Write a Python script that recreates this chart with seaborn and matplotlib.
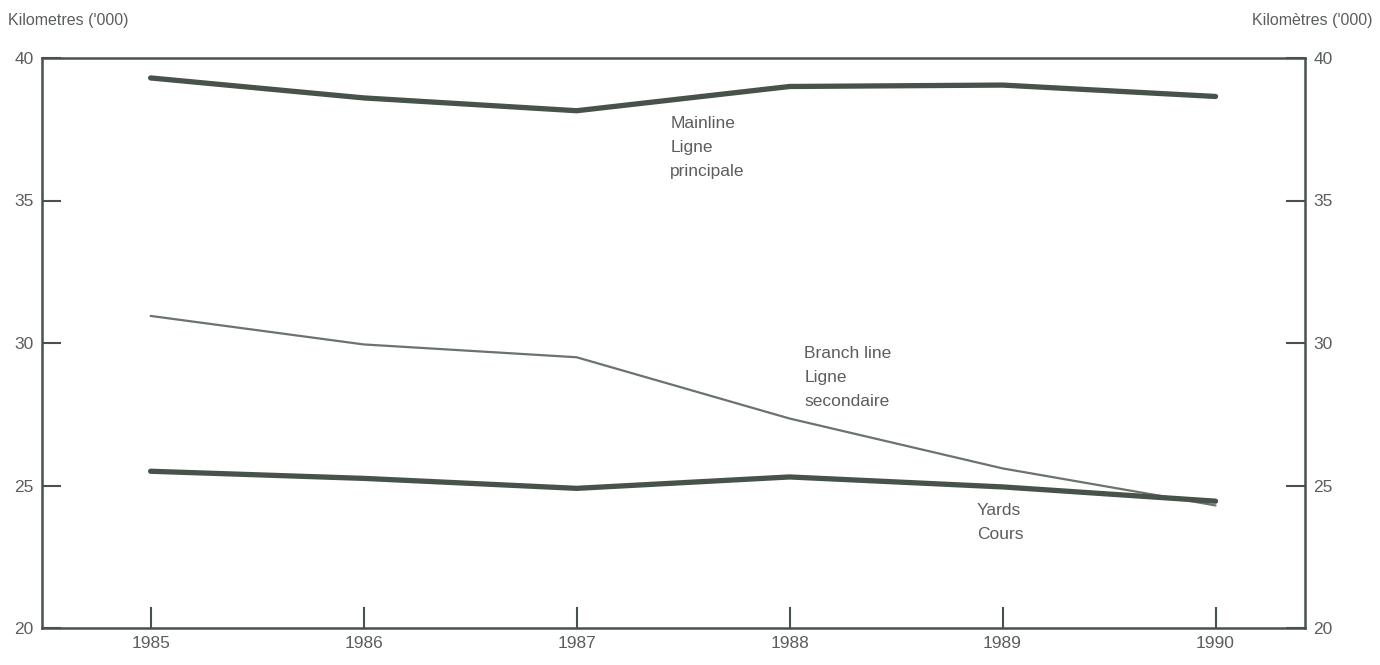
import pandas as pd
import matplotlib.pyplot as plt
import seaborn as sns

# Data (kilometres, thousands)
years = [1985, 1986, 1987, 1988, 1989, 1990]
mainline = [39.3, 38.6, 38.15, 39.0, 39.05, 38.65]
branch_line = [30.95, 29.95, 29.5, 27.35, 25.6, 24.3]
yards = [25.5, 25.25, 24.9, 25.3, 24.95, 24.45]

df = pd.DataFrame({"Year": years, "Mainline": mainline,
                   "Branch": branch_line, "Yards": yards})

sns.set_style("white")
plt.rcParams["font.family"] = ["Liberation Sans", "DejaVu Sans"]

ink = "#47524a"
txt = "#5a5f5a"

fig = plt.figure(figsize=(13.8, 6.65), dpi=100)
ax = fig.add_axes([42 / 1380, 1 - 628 / 665, (1305 - 42) / 1380, (628 - 58) / 665])

sns.lineplot(data=df, x="Year", y="Mainline", ax=ax, color=ink, linewidth=3.8)
sns.lineplot(data=df, x="Year", y="Branch", ax=ax, color="#6a736c", linewidth=1.6)
sns.lineplot(data=df, x="Year", y="Yards", ax=ax, color=ink, linewidth=3.8)

ax.set_xlim(1984.49, 1990.42)
ax.set_ylim(20, 40)
ax.set_xticks(years)
ax.set_yticks([20, 25, 30, 35, 40])
ax.set_xlabel("")
ax.set_ylabel("")

for s in ax.spines.values():
    s.set_color(ink)
    s.set_linewidth(1.8)

ax.tick_params(axis="x", direction="in", length=15, width=1.5, color=ink,
               labelsize=12.5, labelcolor=txt, pad=6, bottom=True)
ax.tick_params(axis="y", direction="in", length=14, width=1.5, color=ink,
               labelsize=12.5, labelcolor=txt, pad=6, left=True,
               right=True, labelright=True)

fig.text(8 / 1380, 1 - 20 / 665, "Kilometres ('000)", fontsize=11.5, color=txt,
         va="center", ha="left")
fig.text(1372 / 1380, 1 - 20 / 665, "Kilomètres ('000)", fontsize=11.5, color=txt,
         va="center", ha="right")

ax.text(1987.44, 37.95, "Mainline\nLigne\nprincipale", fontsize=12.5, color=txt,
        va="top", ha="left", linespacing=1.75)
ax.text(1988.07, 29.9, "Branch line\nLigne\nsecondaire", fontsize=12.5, color=txt,
        va="top", ha="left", linespacing=1.75)
ax.text(1988.88, 24.4, "Yards\nCours", fontsize=12.5, color=txt,
        va="top", ha="left", linespacing=1.75)

plt.savefig("out.png", dpi=100)
plt.close()
